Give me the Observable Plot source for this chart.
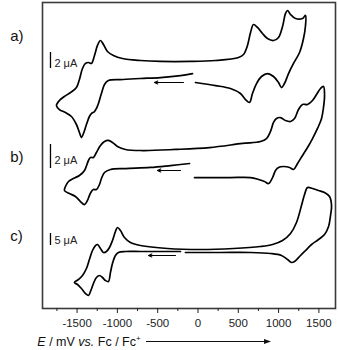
<!DOCTYPE html>
<html><head><meta charset="utf-8">
<script src="https://cdn.jsdelivr.net/npm/d3@7"></script>
<script src="https://cdn.jsdelivr.net/npm/@observablehq/plot@0.6"></script>
<style>body{margin:0;background:#fff} svg{display:block}</style>
</head><body><div id="chart"></div>
<script>
// Potentials (mV vs Fc/Fc+) and currents (µA), in scan order
const E_a = [-68,-217,-465,-714,-962,-1111,-1160,-1198,-1235,-1260,-1284,-1322,-1347,-1384,-1421,-1446,-1471,-1508,-1570,-1644,-1719,-1756,-1719,-1657,-1582,-1508,-1471,-1433,-1396,-1359,-1322,-1284,-1247,-1210,-1173,-1123,-1049,-937,-714,-465,-93,217,503,565,614,652,689,738,800,862,937,999,1049,1086,1111,1148,1210,1297,1334,1334,1309,1260,1185,1123,1073,1036,999,937,862,788,726,676,639,589,527,403,217,-31];
const I_a = [-0.38,-0.63,-0.88,-1.0,-1.13,-1.25,-1.75,-2.88,-4.13,-4.75,-5.13,-5.38,-5.75,-6.75,-7.88,-8.38,-7.75,-6.75,-5.75,-5.25,-4.88,-4.38,-3.75,-3.25,-2.75,-2.13,-1.13,0.25,0.88,1.0,0.88,1.88,3.13,3.75,3.25,2.38,1.88,1.5,1.25,1.13,1.13,1.25,1.63,2.0,3.13,4.75,5.75,5.38,4.63,4.0,3.75,4.13,5.5,7.13,7.5,7.0,6.5,6.5,6.88,5.63,4.0,2.25,0.88,-0.38,-1.63,-2.13,-1.5,-0.75,-0.38,-0.75,-1.63,-2.88,-4.0,-3.63,-2.88,-2.25,-1.88,-1.5];

const E_b = [-105,-341,-589,-900,-1086,-1160,-1198,-1222,-1260,-1297,-1322,-1347,-1371,-1408,-1458,-1520,-1595,-1657,-1644,-1607,-1545,-1471,-1408,-1359,-1334,-1297,-1260,-1210,-1160,-1111,-1061,-999,-900,-689,-279,143,552,776,850,900,937,974,1024,1086,1148,1198,1247,1297,1359,1421,1471,1520,1557,1570,1557,1533,1483,1421,1359,1297,1235,1185,1136,1061,999,962,925,875,825,751,652,403,155,-43];
const I_b = [-0.25,-0.42,-0.58,-0.67,-0.75,-1.0,-1.5,-2.0,-2.42,-2.42,-2.58,-2.92,-3.33,-3.67,-3.42,-3.0,-2.75,-2.5,-2.17,-1.75,-1.5,-1.25,-0.83,0.0,0.25,0.25,0.67,1.25,1.58,1.67,1.5,1.17,0.92,0.83,0.92,1.08,1.42,1.58,1.83,2.42,3.17,3.5,3.58,3.33,3.25,3.5,4.25,4.67,4.67,5.0,5.5,6.0,6.17,5.42,4.42,3.5,2.67,1.83,1.08,0.42,-0.25,-0.75,-0.58,-0.5,-0.58,-0.83,-1.42,-1.92,-1.75,-1.58,-1.42,-1.42,-1.42,-1.42];

const E_c = [-217,-465,-714,-900,-987,-1024,-1061,-1086,-1111,-1148,-1185,-1222,-1260,-1297,-1334,-1359,-1396,-1446,-1495,-1533,-1483,-1433,-1384,-1347,-1309,-1272,-1247,-1210,-1173,-1136,-1098,-1061,-1024,-999,-962,-912,-838,-714,-379,31,441,776,925,1049,1148,1222,1284,1322,1359,1421,1495,1570,1632,1657,1644,1620,1570,1495,1409,1334,1260,1198,1160,1111,1036,900,652,279,-155];
const I_c = [-0.42,-0.42,-0.42,-0.42,-0.83,-2.08,-5.42,-9.17,-12.92,-12.5,-11.25,-10.42,-11.25,-13.75,-17.08,-18.75,-17.92,-15.83,-14.17,-13.33,-12.08,-10.42,-7.5,-3.75,0.0,2.08,2.5,0.83,-0.83,-0.42,1.25,4.17,7.92,9.58,8.33,5.42,3.33,2.08,0.83,0.42,0.83,1.67,2.5,4.17,7.08,11.67,18.75,23.33,26.25,25.83,25.0,24.17,22.5,18.75,14.58,10.0,6.67,4.58,2.5,0.0,-2.5,-4.58,-5.0,-3.75,-2.08,-1.25,-0.83,-0.83,-0.83];

const panelLabels = ["a)", "b)", "c)"];
const scaleBarValues = [2, 2, 5];            // µA
const scaleBarLabels = ["2 \u03bcA", "2 \u03bcA", "5 \u03bcA"];
const arrowFrom = [-180, -217, -279];        // mV, scan-direction arrows
const arrowTo = [-540, -503, -614];
const arrowLevel = [-1.5, -0.83, -2.08];     // µA
const majorTicks = [-1500, -1000, -500, 0, 500, 1000, 1500];
const minorTicks = [-1750, -1250, -750, -250, 250, 750, 1250];

// Layout: vertical stacking of the three panels on one shared display axis
const layout = [
  {offset: 29.75, gain: 1.0, barBase: 0.25, labelV: 34.0, textI: 0.85},
  {offset: 18.5, gain: 1.5, barBase: -0.67, labelV: 18.9, textI: 0.0},
  {offset: 7.25, gain: 0.3, barBase: 2.08, labelV: 9.0, textI: 4.2}
];
const series = [[E_a, I_a], [E_b, I_b], [E_c, I_c]];

const curves = [];
series.forEach(([E, I], p) => {
  const n = Math.min(E.length, I.length);
  for (let i = 0; i < n; i++) curves.push({panel: p, E: E[i], v: layout[p].offset + layout[p].gain * I[i]});
});
const bars = scaleBarValues.map((val, p) => ({
  p, x: -1830,
  v1: layout[p].offset + layout[p].gain * layout[p].barBase,
  v2: layout[p].offset + layout[p].gain * (layout[p].barBase + val),
  tv: layout[p].offset + layout[p].gain * layout[p].textI,
  text: scaleBarLabels[p]
}));
const arrows = arrowFrom.map((e, p) => ({
  x1: e, x2: arrowTo[p], v: layout[p].offset + layout[p].gain * arrowLevel[p]
}));
const labels = panelLabels.map((t, p) => ({t, x: -2330, v: layout[p].labelV}));

const svg = Plot.plot({
  width: 338, height: 350,
  marginLeft: 42, marginRight: 3, marginTop: 2, marginBottom: 42,
  x: {domain: [-1929, 1706]},
  y: {domain: [0, 38.25], axis: null},
  style: {fontFamily: "'Liberation Sans', Arial, sans-serif", fontSize: "11.5px", color: "#222", background: "#fff"},
  marks: [
    Plot.frame({stroke: "#3a3a3a", strokeWidth: 1.6}),
    Plot.line(curves, {x: "E", y: "v", z: "panel", curve: "catmull-rom", stroke: "#000", strokeWidth: 1.7}),
    Plot.ruleX(bars, {x: "x", y1: "v1", y2: "v2", stroke: "#000", strokeWidth: 1.3}),
    Plot.text(bars, {x: -1781, y: "tv", text: "text", textAnchor: "start", fontSize: 11, fill: "#222"}),
    Plot.arrow(arrows, {x1: "x1", x2: "x2", y1: "v", y2: "v", stroke: "#000", strokeWidth: 1.1, headLength: 5, headAngle: 50}),
    Plot.text(labels, {x: "x", y: "v", text: "t", textAnchor: "start", fontSize: 15, fill: "#111"}),
    Plot.axisX({ticks: majorTicks, tickSize: 5, tickPadding: 5, tickFormat: d => String(d), label: null, fontSize: 11.5}),
    Plot.axisX({ticks: minorTicks, tickSize: 3, tickFormat: () => "", label: null})
  ]
});
document.getElementById("chart").appendChild(svg);

// axis title with italic parts and superscript
const s = d3.select(svg);
const t = s.append("text")
  .attr("x", 89).attr("y", 346)
  .attr("font-family", "'Liberation Sans', Arial, sans-serif")
  .attr("font-size", 12.5).attr("fill", "#111");
t.append("tspan").attr("font-style", "italic").text("E");
t.append("tspan").text(" / mV ");
t.append("tspan").attr("font-style", "italic").text("vs.");
t.append("tspan").text(" Fc / Fc");
t.append("tspan").attr("font-size", 8).attr("dy", -5).text("+");
const tb = t.node().getBBox();
const ax0 = tb.x + tb.width + 5, ax1 = 271, ay = 341.5;
s.append("line").attr("x1", ax0).attr("x2", ax1 - 5).attr("y1", ay).attr("y2", ay)
  .attr("stroke", "#111").attr("stroke-width", 1.1);
s.append("path").attr("d", `M${ax1},${ay} L${ax1 - 7},${ay - 2.5} L${ax1 - 7},${ay + 2.5} Z`).attr("fill", "#111");
</script>
</body></html>
